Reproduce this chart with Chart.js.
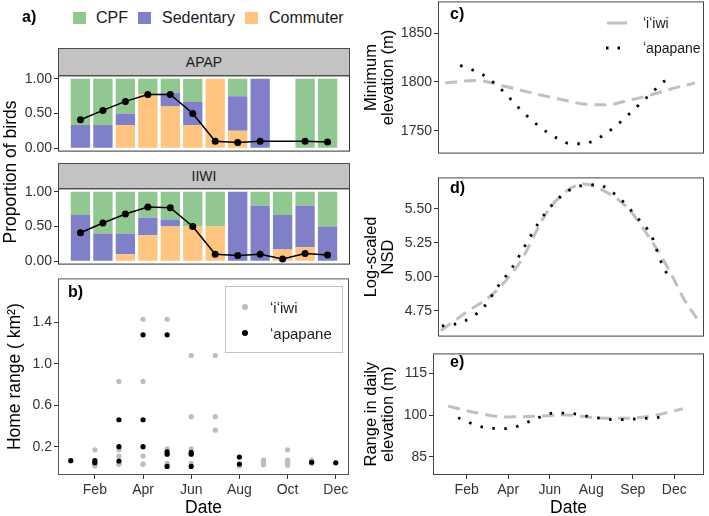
<!DOCTYPE html>
<html>
<head>
<meta charset="utf-8">
<script src="https://cdn.jsdelivr.net/npm/chart.js@4.4.0/dist/chart.umd.min.js"></script>
<style>
  html, body { margin: 0; padding: 0; background: #fff; }
  body { width: 709px; height: 516px; position: relative; overflow: hidden;
         font-family: 'Liberation Sans', Arial, sans-serif; color: #1a1a1a; }
  canvas { position: absolute; }
  .t { position: absolute; white-space: nowrap; line-height: 1; z-index: 3; transform: translateY(-50%); }
  .tag { font-weight: bold; font-size: 16px; color: #000; }
  .strip { position: absolute; z-index: 3; background: #c3c3c3; border: 1px solid #4d4d4d; box-sizing: border-box;
           font-size: 14px; text-align: center; color: #1a1a1a; }
  .sq { position: absolute; width: 13px; height: 12px; z-index: 3; }
  .dot { position: absolute; width: 6px; height: 6px; border-radius: 50%; z-index: 3; }
</style>
</head>
<body>
<canvas id="apapChart"></canvas>
<canvas id="iiwiChart"></canvas>
<canvas id="homeChart"></canvas>
<canvas id="minElevChart"></canvas>
<canvas id="nsdChart"></canvas>
<canvas id="rangeChart"></canvas>

<!-- panel a: legend, strips, shared y title -->
<div class="t tag" style="left:22px; top:17px;">a)</div>
<div class="sq" style="left:73px; top:12px; background:#91c891;"></div>
<div class="t" style="left:96px; top:18px; font-size:16px;">CPF</div>
<div class="sq" style="left:138px; top:12px; background:#8080c8;"></div>
<div class="t" style="left:162px; top:18px; font-size:16px;">Sedentary</div>
<div class="sq" style="left:245px; top:12px; background:#fec480;"></div>
<div class="t" style="left:269px; top:18px; font-size:16px;">Commuter</div>
<div class="strip" style="left:58px; top:48px; width:292px; height:28px; line-height:27px;">APAP</div>
<div class="strip" style="left:58px; top:163px; width:292px; height:26px; line-height:25px;">IIWI</div>
<div style="position:absolute; left:10.5px; top:172px; transform:translate(-50%,-50%) rotate(-90deg);
            font-size:17.5px; white-space:nowrap; line-height:1; color:#000;">Proportion of birds</div>

<!-- panel b legend -->
<div class="t tag" style="left:68px; top:292px;">b)</div>
<div style="position:absolute; left:225px; top:286px; width:118px; height:67px; border:1px solid #c4c4c4; box-sizing:border-box; z-index:2; background:#fff;"></div>
<div class="dot" style="left:242px; top:304px; background:#bdbdbd;"></div>
<div class="t" style="left:270px; top:307px; font-size:15px;">ʻiʻiwi</div>
<div class="dot" style="left:242px; top:330px; background:#000;"></div>
<div class="t" style="left:270px; top:333px; font-size:15px;">ʻapapane</div>

<!-- right panels -->
<div class="t tag" style="left:450px; top:14px;">c)</div>
<div class="t tag" style="left:450px; top:188px;">d)</div>
<div class="t tag" style="left:450px; top:362px;">e)</div>
<svg style="position:absolute; left:600px; top:10px; z-index:3;" width="40" height="50">
  <line x1="7" y1="13" x2="27" y2="13" stroke="#c0c0c0" stroke-width="3"/>
  <line x1="6" y1="38" x2="22" y2="38" stroke="#000" stroke-width="2.8" stroke-dasharray="2.5 9"/>
</svg>
<div class="t" style="left:643px; top:23px; font-size:14px;">ʻiʻiwi</div>
<div class="t" style="left:643px; top:48px; font-size:14px;">ʻapapane</div>

<script>
// ---- panel a: monthly proportions (Jan..Dec) ----
const months = [1, 2, 3, 4, 5, 6, 7, 8, 9, 10, 11, 12];
const apapCommuter  = [0, 0, 0.333, 0.778, 0.6, 0.333, 1, 0.25, 0, null, 0, 0];
const apapSedentary = [0.333, 0.333, 0.167, 0, 0.2, 0.333, 0, 0.5, 1, null, 0, 0];
const apapCPF       = [0.667, 0.667, 0.5, 0.222, 0.2, 0.333, 0, 0.25, 0, null, 1, 1];
const apapLine      = [0.41, 0.545, 0.675, 0.775, 0.775, 0.5, 0.1, 0.08, 0.1, null, 0.1, 0.09];
const iiwiCommuter  = [0, 0, 0.1, 0.375, 0.5, 0.5, 0.5, 0, 0, 0.167, 0.2, 0];
const iiwiSedentary = [0.667, 0.4, 0.3, 0.25, 0.1, 0, 0, 1, 0.8, 0.5, 0.6, 0.5];
const iiwiCPF       = [0.333, 0.6, 0.6, 0.375, 0.4, 0.5, 0.5, 0, 0.2, 0.333, 0.2, 0.5];
const iiwiLine      = [0.41, 0.55, 0.68, 0.78, 0.77, 0.5, 0.1, 0.08, 0.1, 0.03, 0.11, 0.09];

// ---- panel b: home range (km2) by month ----
const iiwiHRMonth = [2, 2, 2, 2, 3, 3, 3, 3, 3, 4, 4, 4, 4, 4, 5, 5, 5, 5, 6, 6, 6, 6, 7, 7, 7,
                     8, 8, 9, 9, 9, 9, 10, 10, 10, 10, 10, 11, 11, 12];
const iiwiHR = [0.17, 0.055, 0.03, 0.015, 0.83, 0.17, 0.11, 0.04, 0.03, 1.43, 0.83, 0.11, 0.035, 0.03,
                1.43, 0.18, 0.04, 0.025, 1.08, 0.49, 0.18, 0.04, 1.08, 0.49, 0.36,
                0.025, 0.015, 0.07, 0.055, 0.04, 0.025, 0.17, 0.07, 0.055, 0.04, 0.02, 0.07, 0.035, 0.045];
const apapHRMonth = [1, 2, 2, 3, 3, 3, 4, 4, 4, 5, 5, 5, 5, 6, 6, 6, 8, 8, 11, 12];
const apapHR = [0.065, 0.065, 0.045, 0.46, 0.2, 0.062, 1.28, 0.46, 0.2, 1.28, 0.15, 0.127, 0.01,
                0.145, 0.127, 0.01, 0.1, 0.033, 0.05, 0.045];
const homeTickLabels = ['Feb', 'Apr', 'Jun', 'Aug', 'Oct', 'Dec'];

// ---- panels c-e: smoothed seasonal curves (x in months) ----
const minElevIiwiX = [0.73, 2.29, 3.76, 5.23, 6.54, 7.69, 8.67, 9.65, 10.79, 11.77, 12.99];
const minElevIiwiY = [1799, 1801.5, 1795, 1787.5, 1781.5, 1777, 1776.5, 1780.7, 1786.5, 1792.5, 1799];
const minElevApapX = [1.47, 2.61, 3.55, 4.41, 5.31, 6.33, 6.9, 7.49, 8.13, 9.11, 10.01, 10.92, 11.86];
const minElevApapY = [1817, 1807, 1791, 1772, 1755, 1741, 1736.6, 1736.6, 1741, 1755, 1772, 1790, 1808];
const nsdIiwiX = [0.52, 1.8, 3.1, 4.41, 5.72, 6.71, 7.52, 8.5, 9.65, 10.79, 11.77, 12.43, 13.08];
const nsdIiwiY = [4.603, 4.742, 4.877, 5.109, 5.475, 5.634, 5.683, 5.634, 5.512, 5.28, 5.035, 4.84, 4.693];
const nsdApapX = [0.57, 1.63, 2.61, 3.27, 4.04, 4.66, 5.31, 6.05, 6.99, 8.18, 9.24, 10.06, 10.88, 11.28, 11.81];
const nsdApapY = [4.637, 4.669, 4.774, 4.918, 5.072, 5.231, 5.397, 5.541, 5.651, 5.678, 5.585, 5.451, 5.292, 5.126, 4.962];
const rangeIiwiX = [1.11, 2.48, 3.92, 5.36, 6.8, 8.25, 9.69, 11.13, 12.41];
const rangeIiwiY = [103.2, 100.8, 99.3, 99.6, 100, 99, 98.8, 100, 102.3];
const rangeApapX = [1.59, 2.75, 3.92, 5.07, 6.19, 6.8, 8.01, 9.21, 10.41, 11.58];
const rangeApapY = [99, 95.7, 95.1, 97.8, 100.7, 100.7, 99.3, 98.3, 98.7, 99.3];
const dateTickLabels = ['Feb', 'Apr', 'Jun', 'Aug', 'Sep', 'Dec'];
const dateTicks = [2, 4, 6, 8, 10, 12];

const colCPF = '#91c891', colSed = '#8080c8', colCom = '#fec480';
const colGrey = '#bdbdbd', colDash = '#c0c0c0';
const PAD = 10;

Chart.defaults.font.family = "'Liberation Sans', Arial, sans-serif";
Chart.defaults.color = '#333';

// stroke a frame round the plot area
const panelBox = {
  id: 'panelBox',
  afterDatasetsDraw(chart, args, opts) {
    const a = chart.chartArea, ctx = chart.ctx;
    ctx.save();
    ctx.strokeStyle = opts.color || '#333';
    ctx.lineWidth = 1;
    ctx.strokeRect(a.left + 0.5, a.top + 0.5, a.right - a.left - 1, a.bottom - a.top - 1);
    ctx.restore();
  }
};

// size and place a canvas so the chart area lands on box
function makeCanvas(id, box, yw, xh) {
  const cv = document.getElementById(id);
  cv.width = yw + (box.r - box.l) + PAD;
  cv.height = PAD + (box.b - box.t) + (xh || PAD);
  cv.style.left = (box.l - yw) + 'px';
  cv.style.top = (box.t - PAD) + 'px';
  return cv.getContext('2d');
}

function baseOptions(xh, boxColor) {
  return {
    responsive: false,
    devicePixelRatio: 1,
    animation: false,
    layout: { padding: { top: PAD, right: PAD, left: 0, bottom: xh ? 0 : PAD } },
    plugins: { legend: { display: false }, tooltip: { enabled: false }, panelBox: { color: boxColor } }
  };
}

function yAxis(min, max, ticks, fmt, yw, title, titlePad) {
  return {
    min: min, max: max,
    afterBuildTicks: s => { s.ticks = ticks.map(v => ({ value: v })); },
    afterFit: s => { s.width = yw; },
    ticks: { callback: v => fmt(v), color: '#333', font: { size: 14 }, padding: 2, autoSkip: false },
    grid: { drawOnChartArea: false, tickLength: 4, color: '#333' },
    border: { display: false },
    title: title ? { display: true, text: title, color: '#000',
                     font: { size: title.length > 1 ? 16.5 : 17.5, lineHeight: '17px' },
                     padding: { top: titlePad, bottom: 0 } } : { display: false }
  };
}

function xAxis(min, max, xh, labels) {
  if (!xh) return { type: 'linear', display: false, min: min, max: max, offset: false, stacked: true };
  return {
    type: 'linear', min: min, max: max, offset: false,
    afterBuildTicks: s => { s.ticks = dateTicks.map(v => ({ value: v })); },
    afterFit: s => { s.height = xh; },
    ticks: { callback: (v, i) => labels[i], color: '#333', font: { size: 14 }, padding: 3,
             autoSkip: false, maxRotation: 0 },
    grid: { drawOnChartArea: false, tickLength: 4, color: '#333', offset: false },
    border: { display: false },
    title: { display: true, text: 'Date', color: '#000', font: { size: 17.5, lineHeight: '18px' },
             padding: { top: 0, bottom: 0 } }
  };
}

const pts = (xs, ys) => xs.map((x, i) => ({ x: x, y: ys[i] }));

// ---- panel a facets ----
function facetChart(id, box, commuter, sedentary, cpf, line) {
  const barSet = (label, arr, color) => ({
    label: label, data: pts(months, arr), backgroundColor: color, stack: 'bars',
    barPercentage: 0.86, categoryPercentage: 1, borderWidth: 0
  });
  const opts = baseOptions(0, '#333');
  opts.scales = {
    x: xAxis(0, 13, 0),
    y: Object.assign(yAxis(-0.05, 1.05, [0, 0.5, 1], v => v.toFixed(2), 58), { stacked: true })
  };
  new Chart(makeCanvas(id, box, 58, 0), {
    type: 'bar',
    data: { datasets: [
      { type: 'line', data: pts(months, line), stack: 'line', borderColor: '#000', borderWidth: 1.5,
        pointRadius: 3.5, pointBackgroundColor: '#000', pointBorderWidth: 0, spanGaps: true },
      barSet('Commuter', commuter, colCom),
      barSet('Sedentary', sedentary, colSed),
      barSet('CPF', cpf, colCPF)
    ] },
    options: opts,
    plugins: [panelBox]
  });
}
facetChart('apapChart', { l: 58, t: 75, r: 350, b: 152 }, apapCommuter, apapSedentary, apapCPF, apapLine);
facetChart('iiwiChart', { l: 58, t: 188, r: 350, b: 265 }, iiwiCommuter, iiwiSedentary, iiwiCPF, iiwiLine);

// ---- panel b ----
{
  const opts = baseOptions(42, '#555');
  opts.scales = {
    x: xAxis(0.47, 12.55, 42, homeTickLabels),
    y: yAxis(-0.073, 1.824, [0.2, 0.6, 1.0, 1.4], v => v.toFixed(1), 58, ['Home range ( km²)'], 7)
  };
  new Chart(makeCanvas('homeChart', { l: 58, t: 278, r: 349, b: 475 }, 58, 42), {
    type: 'scatter',
    data: { datasets: [
      { label: 'ʻapapane', data: pts(apapHRMonth, apapHR), backgroundColor: '#000', pointRadius: 2.6, pointBorderWidth: 0 },
      { label: 'ʻiʻiwi', data: pts(iiwiHRMonth, iiwiHR), backgroundColor: colGrey, pointRadius: 2.6, pointBorderWidth: 0 }
    ] },
    options: opts,
    plugins: [panelBox]
  });
}

// ---- panels c, d, e ----
function curveChart(id, box, yw, xh, yMin, yMax, yTicks, fmt, title, iiwiX, iiwiY, apapX, apapY) {
  const opts = baseOptions(xh, '#444');
  opts.scales = {
    x: xAxis(0.38, 13.43, xh, dateTickLabels),
    y: yAxis(yMin, yMax, yTicks, fmt, yw, title, 7.5)
  };
  new Chart(makeCanvas(id, box, yw, xh), {
    type: 'line',
    data: { datasets: [
      { label: 'ʻapapane', data: pts(apapX, apapY), borderColor: '#000', borderWidth: 2.8,
        borderDash: [2.5, 9.5], borderCapStyle: 'butt', pointRadius: 0, cubicInterpolationMode: 'monotone' },
      { label: 'ʻiʻiwi', data: pts(iiwiX, iiwiY), borderColor: colDash, borderWidth: 3,
        borderDash: [12, 7], borderCapStyle: 'butt', pointRadius: 0, cubicInterpolationMode: 'monotone' }
    ] },
    options: opts,
    plugins: [panelBox]
  });
}
curveChart('minElevChart', { l: 438, t: 1, r: 704, b: 154 }, 83, 0, 1726.5, 1882.6, [1750, 1800, 1850],
           v => String(v), ['Minimum', 'elevation (m)'], minElevIiwiX, minElevIiwiY, minElevApapX, minElevApapY);
curveChart('nsdChart', { l: 438, t: 177, r: 704, b: 337 }, 83, 0, 4.559, 5.732, [4.75, 5.0, 5.25, 5.5],
           v => v.toFixed(2), ['Log-scaled', 'NSD'], nsdIiwiX, nsdIiwiY, nsdApapX, nsdApapY);
curveChart('rangeChart', { l: 433, t: 353, r: 704, b: 475 }, 78, 42, 78.4, 122.2, [85, 100, 115],
           v => String(v), ['Range in daily', 'elevation (m)'], rangeIiwiX, rangeIiwiY, rangeApapX, rangeApapY);
</script>
</body>
</html>
